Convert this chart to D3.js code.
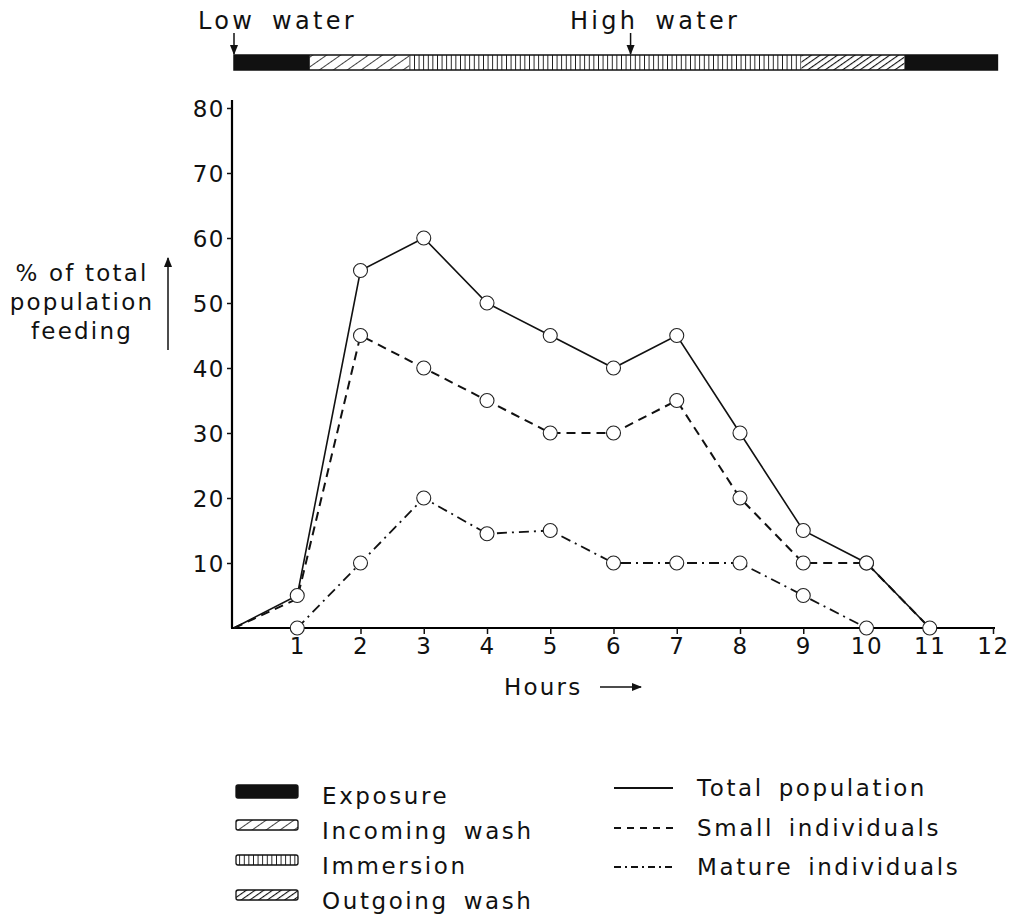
<!DOCTYPE html>
<html><head><meta charset="utf-8">
<script src="https://cdn.jsdelivr.net/npm/d3@7"></script>
<style>body{margin:0;background:#fff}</style>
</head><body>
<svg id="c" width="1024" height="923"></svg>
<script>
const hours = [0,1,2,3,4,5,6,7,8,9,10,11];
const totalPop = [0,5,55,60,50,45,40,45,30,15,10,0];
const smallInd = [0,4.5,45,40,35,30,30,35,20,10,10,0];
const matureHours = [1,2,3,4,5,6,7,8,9,10];
const matureInd = [0,10,20,14.5,15,10,10,10,5,0];
const yTicks = [10,20,30,40,50,60,70,80];
const xTicks = [1,2,3,4,5,6,7,8,9,10,11,12];
const tidePhases = ["Exposure","Incoming wash","Immersion","Outgoing wash","Exposure"];
const tideStart = [0,1.2,2.77,8.97,10.6];
const tideEnd = [1.2,2.77,8.97,10.6,12.07];
const tideMarkers = [{label:"Low water", hour:0},{label:"High water", hour:6.27}];
const seriesNames = ["Total population","Small individuals","Mature individuals"];
const phaseNames = ["Exposure","Incoming wash","Immersion","Outgoing wash"];

const svg = d3.select("#c");
const FONT = "DejaVu Sans, sans-serif";
const x = d3.scaleLinear().domain([0,12]).range([234,993]);
const y = d3.scaleLinear().domain([0,80]).range([628,108]);

const defs = svg.append("defs");
function hatch(id, size, angle, sw){
  const p = defs.append("pattern").attr("id",id).attr("patternUnits","userSpaceOnUse")
    .attr("width",size).attr("height",size).attr("patternTransform",`rotate(${angle})`);
  p.append("rect").attr("width",size).attr("height",size).attr("fill","#fff");
  p.append("line").attr("x1",0).attr("y1",0).attr("x2",0).attr("y2",size).attr("stroke","#111").attr("stroke-width",sw);
}
hatch("incoming",8,55,1.6);
hatch("immersion",4.6,0,1.8);
hatch("outgoing",5,55,2.2);
const fillFor = {"Exposure":"#111","Incoming wash":"url(#incoming)","Immersion":"url(#immersion)","Outgoing wash":"url(#outgoing)"};

defs.append("marker").attr("id","arr").attr("viewBox","0 0 10 10").attr("refX",9).attr("refY",5)
  .attr("markerWidth",7).attr("markerHeight",7).attr("orient","auto-start-reverse")
  .append("path").attr("d","M0,1 L10,5 L0,9 Z").attr("fill","#111");

// Tide bar
const barY = 55, barH = 15;
const tg = svg.append("g");
tidePhases.forEach((ph,i)=>{
  tg.append("rect").attr("x",x(tideStart[i])).attr("y",barY)
    .attr("width",x(tideEnd[i])-x(tideStart[i])).attr("height",barH).attr("fill",fillFor[ph]);
});
tg.append("rect").attr("x",x(0)).attr("y",barY).attr("width",x(12.07)-x(0)).attr("height",barH)
  .attr("fill","none").attr("stroke","#111").attr("stroke-width",1.5);
tideMarkers.forEach((m,i)=>{
  tg.append("line").attr("x1",x(m.hour)).attr("x2",x(m.hour)).attr("y1",33).attr("y2",barY-1)
    .attr("stroke","#111").attr("stroke-width",1.5).attr("marker-end","url(#arr)");
  tg.append("text").attr("x", i===0 ? 198 : 570).attr("y",29).text(m.label)
    .attr("font-family",FONT).attr("font-size",24).attr("letter-spacing",3.3).attr("word-spacing",6).attr("fill","#111");
});

// Axes
const yAxis = svg.append("g").attr("transform",`translate(${x(0)-2},0)`)
  .call(d3.axisLeft(y).tickValues(yTicks).tickSize(5).tickPadding(2));
yAxis.select(".domain").attr("d",`M0,${y(0)}V${y(80)-8}`).attr("stroke-width",2.2);
const xAxis = svg.append("g").attr("transform",`translate(0,${y(0)})`)
  .call(d3.axisBottom(x).tickValues(xTicks).tickSize(6).tickPadding(4));
xAxis.select(".domain").attr("d",`M${x(0)-3},0H${x(12)+2}`).attr("stroke-width",2.2);
svg.selectAll(".tick text").attr("font-family",FONT).attr("font-size",23).attr("letter-spacing",1.5).attr("fill","#111");
svg.selectAll(".tick line").attr("stroke","#111").attr("stroke-width",1.5);
yAxis.selectAll(".tick text").attr("dy","0.36em");

// y label
const yl = svg.append("text").attr("font-family",FONT).attr("font-size",23).attr("letter-spacing",2.2).attr("fill","#111").attr("text-anchor","middle");
["% of total","population","feeding"].forEach((t,i)=>yl.append("tspan").attr("x",82).attr("y",281+i*29).text(t));
svg.append("line").attr("x1",168).attr("x2",168).attr("y1",350).attr("y2",258)
  .attr("stroke","#111").attr("stroke-width",1.5).attr("marker-end","url(#arr)");

// x label
svg.append("text").attr("x",504).attr("y",695).text("Hours").attr("font-family",FONT).attr("font-size",23).attr("letter-spacing",2.2).attr("fill","#111");
svg.append("line").attr("x1",600).attr("x2",641).attr("y1",687).attr("y2",687)
  .attr("stroke","#111").attr("stroke-width",1.5).attr("marker-end","url(#arr)");

// Series
const dashes = ["none","9,6","10,5,2,5"];
const widths = [1.6,2,1.8];
const series = [
  hours.map((h,i)=>[h,totalPop[i]]),
  hours.map((h,i)=>[h,smallInd[i]]),
  matureHours.map((h,i)=>[h,matureInd[i]])
];
const line = d3.line().x(d=>x(d[0])).y(d=>y(d[1]));
series.forEach((s,k)=>{
  svg.append("path").attr("d",line(s)).attr("fill","none").attr("stroke","#111")
    .attr("stroke-width",widths[k]).attr("stroke-dasharray",dashes[k]);
});
series.forEach((s,k)=>{
  const pts = k===1 ? s.filter(d=>d[0]>=2 && d[0]<=10) : s.filter(d=>d[0]>=1);
  svg.append("g").selectAll("circle").data(pts).join("circle")
    .attr("cx",d=>x(d[0])).attr("cy",d=>y(d[1])).attr("r",7)
    .attr("fill","#fff").attr("stroke","#222").attr("stroke-width",1.1);
});

// Legend
const lg = svg.append("g").attr("font-family",FONT).attr("font-size",23).attr("fill","#111").attr("letter-spacing",2.6).attr("word-spacing",5);
const legY = [785,820,855,890];
phaseNames.forEach((ph,i)=>{
  lg.append("rect").attr("x",236).attr("y",legY[i]).attr("width",62).attr("height",ph==="Exposure"?13:10)
    .attr("fill",fillFor[ph]).attr("stroke","#111").attr("stroke-width",1.3).attr("rx",2);
  lg.append("text").attr("x",322).attr("y",legY[i]+19).text(ph);
});
const legY2 = [788,828,867];
seriesNames.forEach((n,k)=>{
  lg.append("line").attr("x1",614).attr("x2",673).attr("y1",legY2[k]).attr("y2",legY2[k])
    .attr("stroke","#111").attr("stroke-width",2).attr("stroke-dasharray",k===1?"7,6":(k===2?"7,4,2,4":"none"));
  lg.append("text").attr("x",697).attr("y",legY2[k]+8).text(n);
});
</script>
</body></html>
